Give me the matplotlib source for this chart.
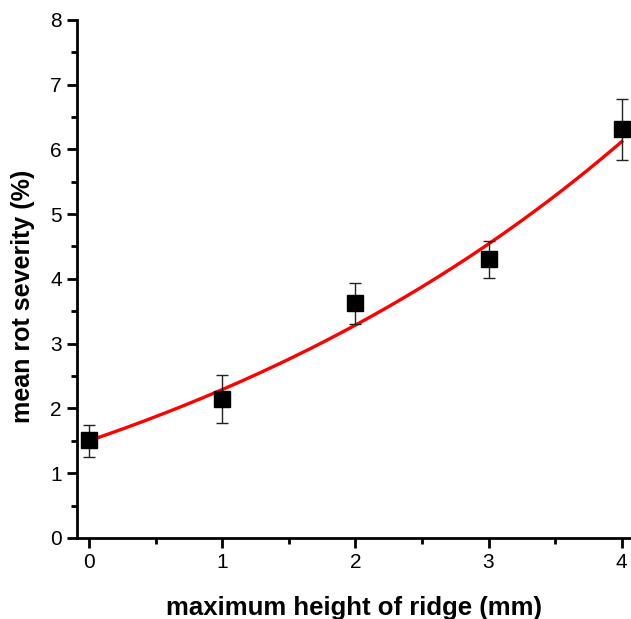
import numpy as np
import matplotlib.pyplot as plt
from matplotlib.ticker import MultipleLocator

plt.rcParams['font.family'] = ['Liberation Sans', 'DejaVu Sans']

# measured points
ridge_height = [0, 1, 2, 3, 4]
rot_severity = [1.51, 2.14, 3.63, 4.30, 6.31]
err_upper = [0.24, 0.37, 0.30, 0.28, 0.46]
err_lower = [0.26, 0.37, 0.33, 0.28, 0.47]

# fitted curve y = y0 + A * exp(b * x)
fit_y0 = -1.54
fit_A = 3.04
fit_b = 0.231

fig = plt.figure(figsize=(6.31, 6.19), dpi=100)
ax = fig.add_axes([0.122, 0.131, 0.878, 0.837])

x_fit = np.linspace(0, 4, 200)
y_fit = fit_y0 + fit_A * np.exp(fit_b * x_fit)
ax.plot(x_fit, y_fit, color='red', lw=2.4, zorder=2)

ax.errorbar(ridge_height, rot_severity, yerr=[err_lower, err_upper],
            fmt='none', ecolor='#222222', elinewidth=1.0, capsize=4.5,
            capthick=1.0, zorder=3)
ax.plot(ridge_height, rot_severity, 's', color='black', ms=11.5, zorder=4)

ax.set_xlim(-0.09, 4.07)
ax.set_ylim(0, 8)
ax.xaxis.set_major_locator(MultipleLocator(1))
ax.xaxis.set_minor_locator(MultipleLocator(0.5))
ax.yaxis.set_major_locator(MultipleLocator(1))
ax.yaxis.set_minor_locator(MultipleLocator(0.5))

for side in ['top', 'right']:
    ax.spines[side].set_visible(False)
for side in ['left', 'bottom']:
    ax.spines[side].set_linewidth(2)

ax.tick_params(which='major', direction='out', length=7, width=2,
               labelsize=15, pad=4)
ax.tick_params(which='minor', direction='out', length=4, width=2)

ax.set_xlabel('maximum height of ridge (mm)', fontsize=18.5, fontweight='bold',
              labelpad=17)
ax.set_ylabel('mean rot severity (%)', fontsize=18, fontweight='bold',
              va='center')
ax.yaxis.set_label_coords(-0.098, 0.467)

fig.savefig('out.png', dpi=100)
